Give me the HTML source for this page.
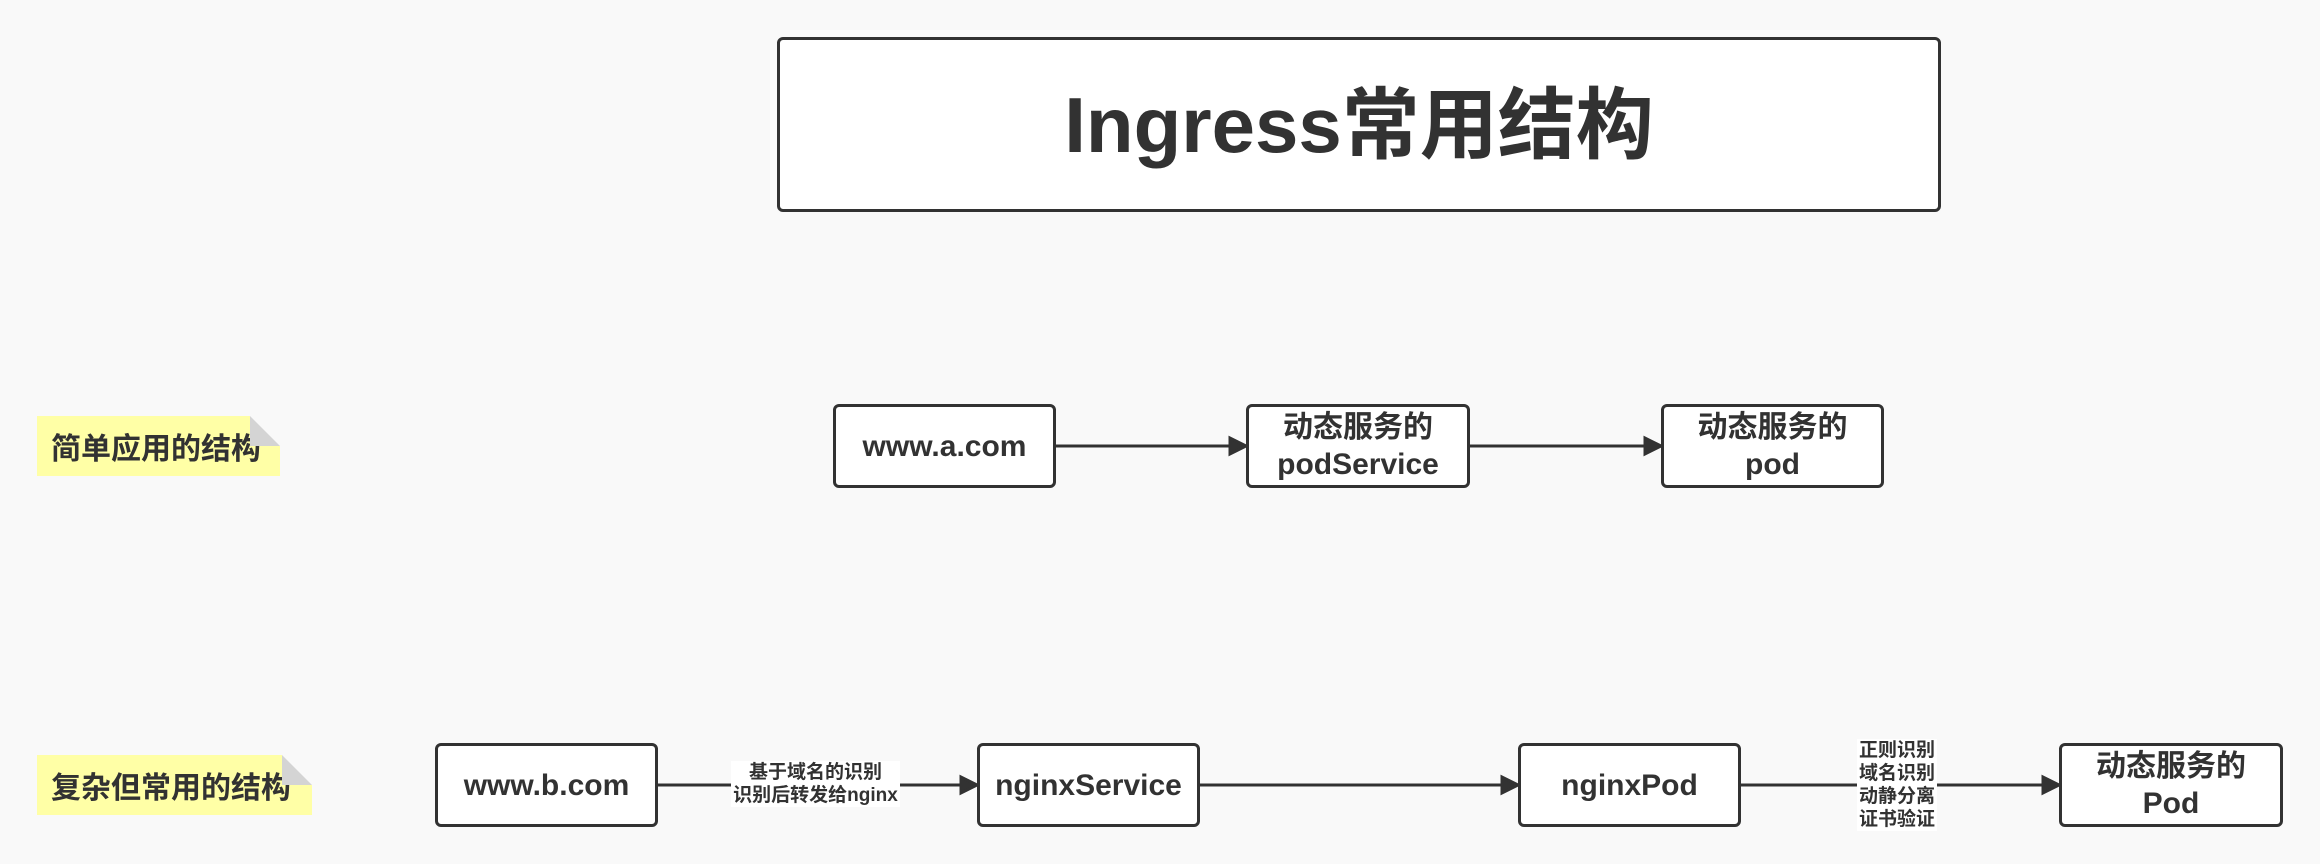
<!DOCTYPE html>
<html><head><meta charset="utf-8"><style>
body{margin:0;width:2320px;height:864px;background:#f9f9f9;position:relative;overflow:hidden;font-family:"Liberation Sans","Noto Sans CJK SC",sans-serif;color:#323232}
.b{position:absolute;box-sizing:border-box;border:3px solid #323232;border-radius:6px;background:#fff;display:flex;align-items:center;justify-content:center;text-align:center;font-weight:bold;font-size:30px;line-height:37px}
.n{position:absolute;background:#ffffa6;font-weight:bold;font-size:30px;display:flex;align-items:center;padding-left:14px;box-sizing:border-box}
.n:after{content:"";position:absolute;right:0;top:0;border-style:solid;border-width:0 30px 30px 0;border-color:#f9f9f9 #f9f9f9 #d4d4d4 #d4d4d4}
.l{position:absolute;background:#fff;font-size:19px;line-height:23px;text-align:center;font-weight:bold}
</style></head><body>
<div class="b" style="left:777px;top:37px;width:1164px;height:175px;font-size:78px;line-height:90px">Ingress常用结构</div>
<div class="n" style="left:37px;top:416px;width:243px;height:60px">简单应用的结构</div>
<div class="n" style="left:37px;top:755px;width:275px;height:60px">复杂但常用的结构</div>
<svg style="position:absolute;left:0;top:0" width="2320" height="864">
<g stroke="#323232" stroke-width="3" fill="#323232">
<line x1="1056" y1="446" x2="1232" y2="446"/><path d="M1246,446 l-16,-8 v16z"/>
<line x1="1470" y1="446" x2="1647" y2="446"/><path d="M1661,446 l-16,-8 v16z"/>
<line x1="658" y1="785" x2="963" y2="785"/><path d="M977,785 l-16,-8 v16z"/>
<line x1="1200" y1="785" x2="1504" y2="785"/><path d="M1518,785 l-16,-8 v16z"/>
<line x1="1741" y1="785" x2="2045" y2="785"/><path d="M2059,785 l-16,-8 v16z"/>
</g></svg>
<div class="b" style="left:833px;top:404px;width:223px;height:84px">www.a.com</div>
<div class="b" style="left:1246px;top:404px;width:224px;height:84px">动态服务的<br>podService</div>
<div class="b" style="left:1661px;top:404px;width:223px;height:84px">动态服务的<br>pod</div>
<div class="b" style="left:435px;top:743px;width:223px;height:84px">www.b.com</div>
<div class="b" style="left:977px;top:743px;width:223px;height:84px">nginxService</div>
<div class="b" style="left:1518px;top:743px;width:223px;height:84px">nginxPod</div>
<div class="b" style="left:2059px;top:743px;width:224px;height:84px">动态服务的<br>Pod</div>
<div class="l" style="left:731px;top:761px;width:169px">基于域名的识别<br>识别后转发给nginx</div>
<div class="l" style="left:1857px;top:739px;width:80px">正则识别<br>域名识别<br>动静分离<br>证书验证</div>
</body></html>
